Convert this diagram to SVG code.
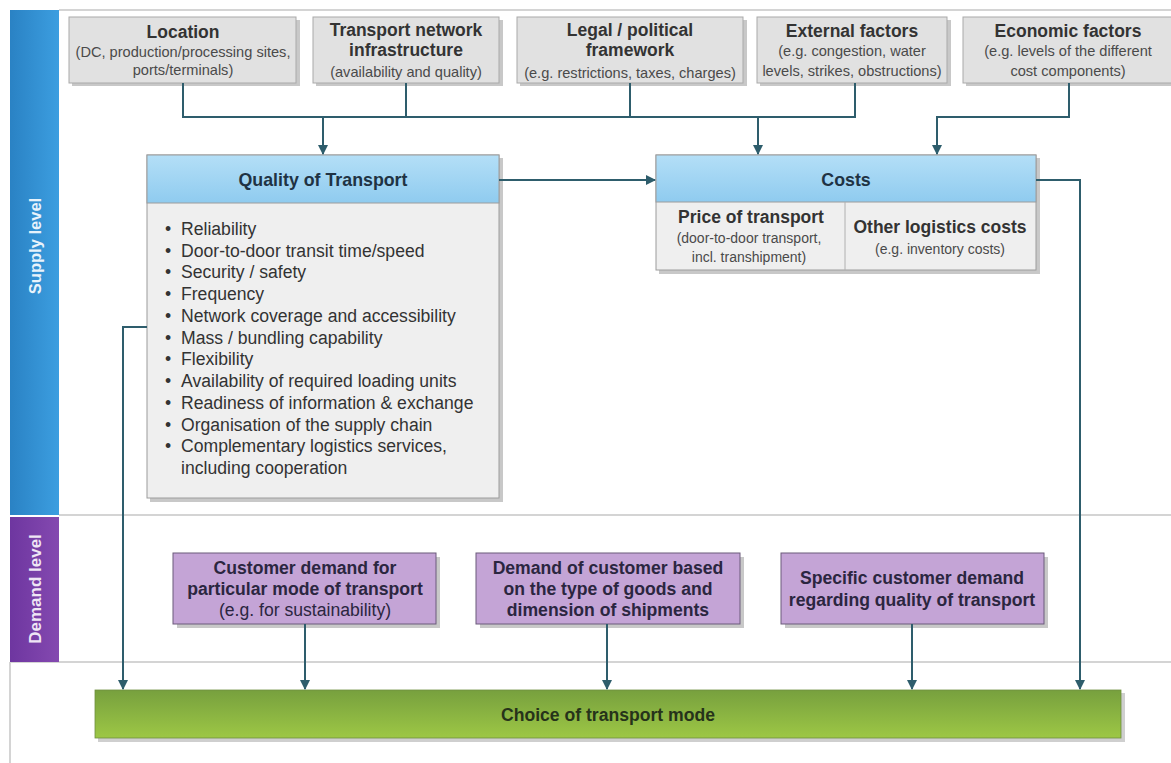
<svg xmlns="http://www.w3.org/2000/svg" width="1171" height="763" viewBox="0 0 1171 763">
<style>
text{font-family:"Liberation Sans",Arial,sans-serif;text-anchor:middle}
.t{font-weight:bold;font-size:17.5px;fill:#333}
.s{font-size:14.6px;fill:#4a4a4a}
.gbox{fill:#e1e1e1;stroke:#a9a9a9;stroke-width:1}
.sh{fill:#c8c8c8}
.conn{fill:none;stroke:#2e5d6c;stroke-width:2}
.hd{font-weight:bold;font-size:17.8px;fill:#1f3344}
.li{font-size:17.6px;fill:#333;text-anchor:start}
.pbox{fill:#c4a4d6;stroke:#6b5a7a;stroke-width:1}
.pt{font-weight:bold;font-size:17.6px;fill:#2b2640}
.pr{font-size:17.6px;fill:#2b2640}
.cs{font-size:14px;fill:#4a4a4a}
.grid{stroke:#d4d4d4;stroke-width:2;fill:none}
</style>
<defs>
<marker id="ah" viewBox="0 0 10 10" refX="9" refY="5" markerWidth="5" markerHeight="5" orient="auto" markerUnits="strokeWidth">
<path d="M0,0 L10,5 L0,10 z" fill="#2e5d6c"/>
</marker>
<linearGradient id="blueBand" x1="0" y1="0" x2="1" y2="0">
<stop offset="0" stop-color="#2a82c4"/><stop offset="1" stop-color="#3c9ee0"/>
</linearGradient>
<linearGradient id="purpBand" x1="0" y1="0" x2="1" y2="0">
<stop offset="0" stop-color="#6e36a0"/><stop offset="1" stop-color="#8449b0"/>
</linearGradient>
<linearGradient id="hdr" x1="0" y1="0" x2="0" y2="1">
<stop offset="0" stop-color="#b4dff7"/><stop offset="1" stop-color="#8fcbef"/>
</linearGradient>
<linearGradient id="green" x1="0" y1="0" x2="0" y2="1">
<stop offset="0" stop-color="#77a03e"/><stop offset="1" stop-color="#9dc745"/>
</linearGradient>
</defs>

<!-- background grid / lanes -->
<g id="lanes">
<line class="grid" x1="59" y1="10" x2="1171" y2="10"/>
<line class="grid" x1="59" y1="515" x2="1171" y2="515"/>
<line class="grid" x1="10" y1="662" x2="1171" y2="662"/>
<line class="grid" x1="10" y1="662" x2="10" y2="763"/>
<rect x="10" y="10" width="49" height="505" fill="url(#blueBand)"/>
<rect x="10" y="517" width="49" height="145" fill="url(#purpBand)"/>
<text transform="translate(41,246) rotate(-90)" font-weight="bold" font-size="16.5px" fill="#e8f3fb">Supply level</text>
<text transform="translate(41,589) rotate(-90)" font-weight="bold" font-size="17px" fill="#efe6f5">Demand level</text>
</g>

<!-- top factor boxes -->
<g id="location">
<rect class="sh" x="72" y="20" width="228" height="66"/>
<rect class="gbox" x="69" y="17" width="227" height="66"/>
<text class="t" x="183" y="38">Location</text>
<text class="s" x="183" y="57">(DC, production/processing sites,</text>
<text class="s" x="183" y="75">ports/terminals)</text>
</g>
<g id="network">
<rect class="sh" x="316" y="20" width="187" height="66"/>
<rect class="gbox" x="313" y="17" width="186" height="66"/>
<text class="t" x="406" y="36">Transport network</text>
<text class="t" x="406" y="56">infrastructure</text>
<text class="s" x="406" y="77">(availability and quality)</text>
</g>
<g id="legal">
<rect class="sh" x="520" y="20" width="227" height="66"/>
<rect class="gbox" x="517" y="17" width="226" height="66"/>
<text class="t" x="630" y="36">Legal / political</text>
<text class="t" x="630" y="56">framework</text>
<text class="s" x="630" y="78">(e.g. restrictions, taxes, charges)</text>
</g>
<g id="external">
<rect class="sh" x="760" y="20" width="191" height="66"/>
<rect class="gbox" x="757" y="17" width="190" height="66"/>
<text class="t" x="852" y="37">External factors</text>
<text class="s" x="852" y="56">(e.g. congestion, water</text>
<text class="s" x="852" y="76">levels, strikes, obstructions)</text>
</g>
<g id="economic">
<rect class="sh" x="966" y="20" width="210" height="66"/>
<rect class="gbox" x="963" y="17" width="210" height="66"/>
<text class="t" x="1068" y="37">Economic factors</text>
<text class="s" x="1068" y="56">(e.g. levels of the different</text>
<text class="s" x="1068" y="76">cost components)</text>
</g>

<!-- Quality of Transport -->
<g id="quality">
<rect class="sh" x="150" y="158" width="353" height="344"/>
<rect x="147" y="155" width="352" height="343" fill="#efefef" stroke="#9c9c9c"/>
<rect x="147" y="155" width="352" height="48" fill="url(#hdr)" stroke="#9c9c9c"/>
<text class="hd" x="323" y="186">Quality of Transport</text>
<g>
<text class="li" x="165" y="235">•</text><text class="li" x="181" y="235">Reliability</text>
<text class="li" x="165" y="257">•</text><text class="li" x="181" y="257">Door-to-door transit time/speed</text>
<text class="li" x="165" y="278">•</text><text class="li" x="181" y="278">Security / safety</text>
<text class="li" x="165" y="300">•</text><text class="li" x="181" y="300">Frequency</text>
<text class="li" x="165" y="322">•</text><text class="li" x="181" y="322">Network coverage and accessibility</text>
<text class="li" x="165" y="344">•</text><text class="li" x="181" y="344">Mass / bundling capability</text>
<text class="li" x="165" y="365">•</text><text class="li" x="181" y="365">Flexibility</text>
<text class="li" x="165" y="387">•</text><text class="li" x="181" y="387">Availability of required loading units</text>
<text class="li" x="165" y="409">•</text><text class="li" x="181" y="409">Readiness of information &amp; exchange</text>
<text class="li" x="165" y="431">•</text><text class="li" x="181" y="431">Organisation of the supply chain</text>
<text class="li" x="165" y="452">•</text><text class="li" x="181" y="452">Complementary logistics services,</text>
<text class="li" x="181" y="474">including cooperation</text>
</g>
</g>

<!-- Costs -->
<g id="costs">
<rect class="sh" x="659" y="158" width="381" height="116"/>
<rect x="656" y="155" width="380" height="115" fill="#efefef" stroke="#9c9c9c"/>
<rect x="656" y="155" width="380" height="47" fill="url(#hdr)" stroke="#9c9c9c"/>
<line x1="845" y1="202" x2="845" y2="270" stroke="#b0b0b0"/>
<text class="hd" x="846" y="186">Costs</text>
<text class="t" x="751" y="223">Price of transport</text>
<text class="cs" x="749" y="243">(door-to-door transport,</text>
<text class="cs" x="749" y="262">incl. transhipment)</text>
<text class="t" x="940" y="233">Other logistics costs</text>
<text class="cs" x="940" y="254">(e.g. inventory costs)</text>
</g>

<!-- Demand boxes -->
<g id="demand1">
<rect class="sh" x="177" y="557" width="263" height="71"/>
<rect class="pbox" x="173" y="553" width="263" height="71"/>
<text class="pt" x="305" y="574">Customer demand for</text>
<text class="pt" x="305" y="595">particular mode of transport</text>
<text class="pr" x="305" y="616">(e.g. for sustainability)</text>
</g>
<g id="demand2">
<rect class="sh" x="480" y="557" width="264" height="71"/>
<rect class="pbox" x="476" y="553" width="264" height="71"/>
<text class="pt" x="608" y="574">Demand of customer based</text>
<text class="pt" x="608" y="595">on the type of goods and</text>
<text class="pt" x="608" y="616">dimension of shipments</text>
</g>
<g id="demand3">
<rect class="sh" x="785" y="557" width="263" height="71"/>
<rect class="pbox" x="781" y="553" width="263" height="71"/>
<text class="pt" x="912" y="584">Specific customer demand</text>
<text class="pt" x="912" y="606">regarding quality of transport</text>
</g>

<!-- Choice -->
<g id="choice">
<rect x="98" y="693" width="1027" height="49" fill="#cfcfcf"/>
<rect x="95" y="690" width="1026" height="48" fill="url(#green)" stroke="#6f8f40" stroke-width="0.8"/>
<text x="608" y="721" font-weight="bold" font-size="17.6px" fill="#26331a">Choice of transport mode</text>
</g>

<!-- connectors -->
<g id="connectors">
<polyline class="conn" points="183,83 183,117 855,117 855,83"/>
<line class="conn" x1="406" y1="83" x2="406" y2="117"/>
<line class="conn" x1="630" y1="83" x2="630" y2="117"/>
<line class="conn" x1="323" y1="117" x2="323" y2="154" marker-end="url(#ah)"/>
<line class="conn" x1="758" y1="117" x2="758" y2="154" marker-end="url(#ah)"/>
<polyline class="conn" points="1069,83 1069,117 937,117 937,154" marker-end="url(#ah)"/>
<line class="conn" x1="499" y1="180" x2="655" y2="180" marker-end="url(#ah)"/>
<polyline class="conn" points="1036,180 1080,180 1080,689" marker-end="url(#ah)"/>
<polyline class="conn" points="147,327 123,327 123,689" marker-end="url(#ah)"/>
<line class="conn" x1="305" y1="624" x2="305" y2="689" marker-end="url(#ah)"/>
<line class="conn" x1="607" y1="624" x2="607" y2="689" marker-end="url(#ah)"/>
<line class="conn" x1="912" y1="624" x2="912" y2="689" marker-end="url(#ah)"/>
</g>
</svg>
